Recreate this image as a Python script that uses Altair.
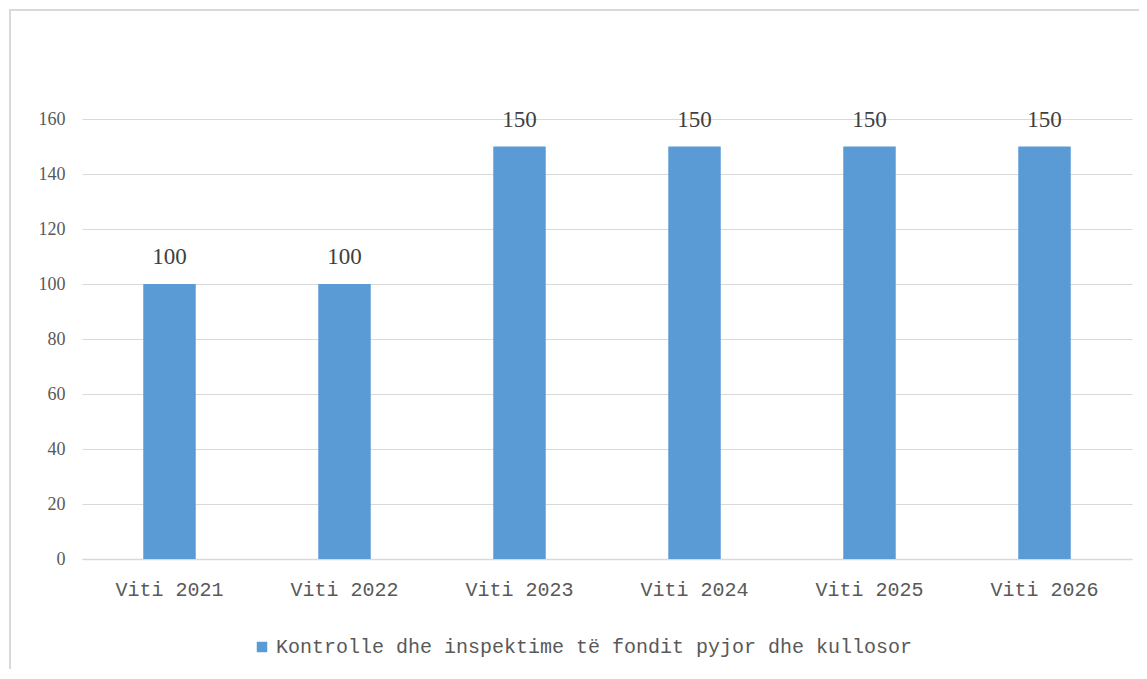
import altair as alt
import pandas as pd

categories = ["Viti 2021", "Viti 2022", "Viti 2023", "Viti 2024", "Viti 2025", "Viti 2026"]
values = [100, 100, 150, 150, 150, 150]
series_name = "Kontrolle dhe inspektime të fondit pyjor dhe kullosor"
y_ticks = [0, 20, 40, 60, 80, 100, 120, 140, 160]

df = pd.DataFrame({"cat": categories, "val": values, "series": [series_name] * len(categories)})

W, H = 1050, 440

base = alt.Chart(df).encode(
    x=alt.X("cat:N", sort=categories, title=None,
            scale=alt.Scale(paddingInner=0.7, paddingOuter=0.35),
            axis=alt.Axis(labelAngle=0, ticks=False, domainColor="#D9D9D9", domainWidth=1.5,
                          labelFont="Liberation Mono", labelFontSize=20, labelColor="#595959",
                          labelPadding=20, grid=False)),
)

bars = base.mark_bar(color="#5B9BD5").encode(
    y=alt.Y("val:Q", title=None,
            scale=alt.Scale(domain=[0, 160], nice=False),
            axis=alt.Axis(values=y_ticks, ticks=False, domain=False, gridColor="#D9D9D9",
                          gridWidth=1.2, labelFont="Liberation Serif", labelFontSize=18,
                          labelColor="#595959", labelPadding=17)),
    color=alt.Color("series:N", scale=alt.Scale(range=["#5B9BD5"]),
                    legend=alt.Legend(title=None, orient="none", legendX=170, legendY=518,
                                      symbolType="square", symbolSize=110, symbolStrokeWidth=0,
                                      labelFont="Liberation Mono", labelFontSize=20,
                                      labelColor="#595959", labelLimit=1000, symbolOpacity=1)),
)

labels = base.mark_text(font="Liberation Serif", fontSize=23, color="#404040",
                        baseline="alphabetic", dy=-20).encode(
    y=alt.Y("val:Q"),
    text=alt.Text("val:Q"),
)

frame = alt.Chart(df).mark_rect(fill=None, stroke="#D9D9D9", strokeWidth=1.5).encode(
    x=alt.value(-72), x2=alt.value(1058), y=alt.value(-109), y2=alt.value(552)
)

chart = alt.layer(frame, bars, labels).properties(
    width=W, height=H,
    background="white",
    autosize=alt.AutoSizeParams(type="none"),
    padding={"left": 74, "top": 111, "right": 7, "bottom": 110},
).configure_view(stroke=None)

chart.save("out.html", embed_options={"renderer": "svg", "actions": False})
